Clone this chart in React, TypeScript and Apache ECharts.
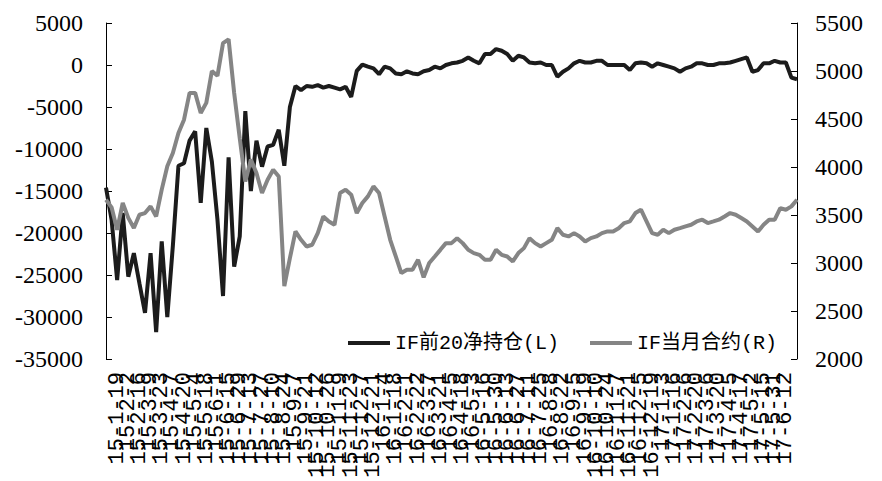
import React, { useEffect, useRef } from "react";
import * as echarts from "echarts";

const dates = (
  "15-1-5 15-1-12 15-1-19 15-1-26 15-2-2 15-2-9 15-2-16 15-3-2 15-3-9 15-3-16 15-3-23 15-3-30 " +
  "15-4-7 15-4-13 15-4-20 15-4-27 15-5-4 15-5-11 15-5-18 15-5-25 15-6-1 15-6-8 15-6-15 15-6-23 15-6-29 " +
  "15-7-6 15-7-13 15-7-20 15-7-27 15-8-3 15-8-10 15-8-17 15-8-24 15-8-31 15-9-7 15-9-14 15-9-21 15-9-28 " +
  "15-10-12 15-10-19 15-10-26 15-11-2 15-11-9 15-11-16 15-11-23 15-11-30 15-12-7 15-12-14 15-12-21 15-12-28 " +
  "16-1-4 16-1-11 16-1-18 16-1-25 16-2-1 16-2-15 16-2-22 16-2-29 16-3-7 16-3-14 16-3-21 16-3-28 " +
  "16-4-5 16-4-11 16-4-18 16-4-25 16-5-3 16-5-9 16-5-16 16-5-23 16-5-30 16-6-6 16-6-13 16-6-20 16-6-27 " +
  "16-7-4 16-7-11 16-7-18 16-7-25 16-8-1 16-8-8 16-8-15 16-8-22 16-8-29 16-9-5 16-9-12 16-9-19 16-9-26 " +
  "16-10-10 16-10-17 16-10-24 16-10-31 16-11-7 16-11-14 16-11-21 16-11-28 16-12-5 16-12-12 16-12-19 16-12-26 " +
  "17-1-3 17-1-9 17-1-16 17-1-23 17-2-6 17-2-13 17-2-20 17-2-27 17-3-6 17-3-13 17-3-20 17-3-27 " +
  "17-4-5 17-4-10 17-4-17 17-4-24 17-5-2 17-5-8 17-5-15 17-5-22 17-5-31 17-6-5 17-6-12 17-6-19 17-6-23"
).split(" ");

// IF前20净持仓 (left axis)
const netPosition = [
  -14600, -18400, -25600, -17600, -25200, -22400, -26000, -29500, -22400, -31800,
  -21000, -30000, -21500, -12000, -11700, -9000, -7900, -16400, -7500, -11500,
  -18400, -27500, -11000, -24000, -20400, -5500, -15000, -9000, -12100, -9700,
  -9500, -7700, -12000, -5000, -2500, -3000, -2500, -2600, -2400, -2700,
  -2500, -2700, -2900, -2600, -3800, -700, 50, -200, -400, -1100,
  -200, -400, -1000, -1100, -750, -1000, -1100, -750, -600, -200,
  -400, 0, 200, 300, 500, 900, 500, 200, 1300, 1300,
  1900, 1700, 1300, 500, 1100, 900, 300, 200, 300, 0,
  0, -1400, -800, -400, 200, 500, 300, 300, 500, 500,
  0, 0, 0, 0, -600, 200, 300, 200, -200, 200,
  0, -200, -400, -800, -400, -200, 200, 200, 0, 0,
  200, 200, 300, 500, 700, 900, -800, -600, 200, 200,
  500, 300, 300, -1500, -1700,
];

// IF当月合约 (right axis)
const contractPrice = [
  3659, 3580, 3346, 3625, 3470, 3364, 3503, 3520, 3590, 3485,
  3764, 4007, 4146, 4355, 4493, 4772, 4772, 4563, 4668, 5000,
  4950, 5290, 5330, 4770, 4300, 3850, 4077, 3937, 3729, 3868,
  3972, 3900, 2760, 3050, 3329, 3242, 3172, 3190, 3312, 3485,
  3433, 3398, 3729, 3764, 3712, 3520, 3625, 3694, 3798, 3729,
  3485, 3242, 3068, 2895, 2930, 2930, 3033, 2850, 3000, 3068,
  3137, 3207, 3207, 3259, 3207, 3137, 3103, 3085, 3033, 3033,
  3137, 3085, 3068, 3016, 3103, 3155, 3259, 3207, 3172, 3207,
  3242, 3363, 3294, 3277, 3311, 3277, 3225, 3259, 3277, 3311,
  3329, 3329, 3363, 3416, 3433, 3520, 3555, 3433, 3311, 3294,
  3346, 3311, 3346, 3363, 3381, 3398, 3433, 3451, 3416, 3433,
  3451, 3485, 3520, 3503, 3468, 3433, 3381, 3329, 3398, 3451,
  3451, 3572, 3555, 3590, 3659,
];

const seriesNames = ["IF前20净持仓(L)", "IF当月合约(R)"];
const leftAxisRange = [-35000, 5000];
const leftAxisStep = 5000;
const rightAxisRange = [2000, 5500];
const rightAxisStep = 500;

const SERIF = "'Liberation Serif', 'Times New Roman', serif";
const MONO = "'Liberation Mono', 'Courier New', monospace";

export default function App() {
  const ref = useRef<HTMLDivElement>(null);
  useEffect(() => {
    if (!ref.current) return;
    const chart = echarts.init(ref.current, null, { renderer: "svg" });
    const tickFont = {
      fontFamily: SERIF,
      fontSize: 24,
      color: "#000",
      formatter: (v: number) => String(v),
    };
    const legendText = {
      fontFamily: "'Liberation Mono', 'Noto Sans CJK SC', monospace",
      fontSize: 20,
      color: "#000",
    };
    chart.setOption({
      animation: false,
      backgroundColor: "#fff",
      textStyle: { fontFamily: SERIF },
      grid: { left: 106, right: 85, top: 23, bottom: 122, containLabel: false },
      legend: [
        {
          data: [seriesNames[0]],
          left: 348,
          top: 333,
          padding: 0,
          icon: "rect",
          itemWidth: 42,
          itemHeight: 4,
          textStyle: legendText,
        },
        {
          data: [seriesNames[1]],
          left: 590,
          top: 333,
          padding: 0,
          icon: "rect",
          itemWidth: 42,
          itemHeight: 4,
          textStyle: legendText,
        },
      ],
      xAxis: {
        type: "category",
        data: dates,
        boundaryGap: false,
        axisLine: { show: false },
        axisTick: { show: false },
        splitLine: { show: false },
        axisLabel: {
          interval: 1,
          rotate: 90,
          margin: 13,
          fontFamily: MONO,
          fontSize: 22,
          color: "#000",
        },
      },
      yAxis: [
        {
          type: "value",
          min: leftAxisRange[0],
          max: leftAxisRange[1],
          interval: leftAxisStep,
          position: "left",
          axisLine: { show: true, lineStyle: { color: "#000", width: 1 } },
          axisTick: { show: true, inside: true, length: 6, lineStyle: { color: "#000" } },
          splitLine: { show: false },
          axisLabel: { ...tickFont, margin: 23 },
        },
        {
          type: "value",
          min: rightAxisRange[0],
          max: rightAxisRange[1],
          interval: rightAxisStep,
          position: "right",
          axisLine: { show: true, lineStyle: { color: "#000", width: 1 } },
          axisTick: { show: true, inside: true, length: 6, lineStyle: { color: "#000" } },
          splitLine: { show: false },
          axisLabel: { ...tickFont, margin: 18 },
        },
      ],
      series: [
        {
          name: seriesNames[0],
          type: "line",
          yAxisIndex: 0,
          data: netPosition,
          showSymbol: false,
          symbol: "none",
          color: "#1c1c1c",
          lineStyle: { color: "#1c1c1c", width: 4 },
        },
        {
          name: seriesNames[1],
          type: "line",
          yAxisIndex: 1,
          data: contractPrice,
          showSymbol: false,
          symbol: "none",
          color: "#858585",
          lineStyle: { color: "#858585", width: 4 },
        },
      ],
    });
    return () => chart.dispose();
  }, []);
  return (
    <div
      ref={ref}
      style={{ position: "fixed", left: 0, top: 0, width: 882, height: 481, background: "#fff" }}
    />
  );
}
